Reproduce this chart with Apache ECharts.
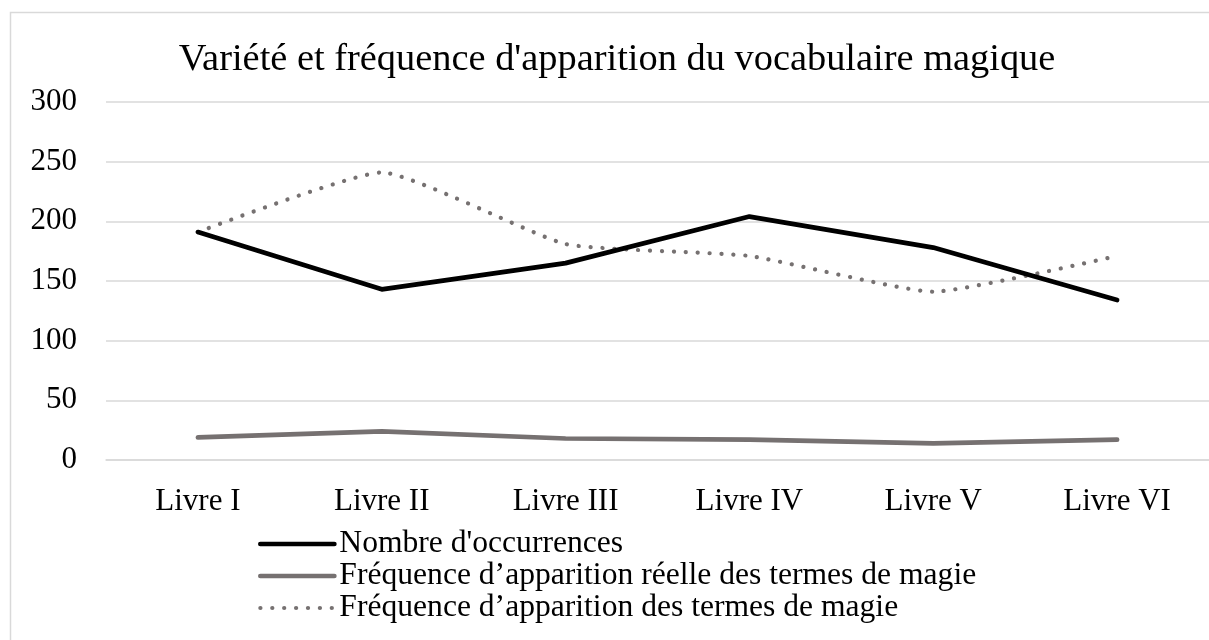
<!DOCTYPE html>
<html>
<head>
<meta charset="utf-8">
<script src="https://cdn.jsdelivr.net/npm/echarts@6/dist/echarts.min.js"></script>
<style>
html,body{margin:0;padding:0;background:#fff;}
#c{width:1209px;height:640px;}
</style>
</head>
<body>
<div id="c"></div>
<script>
const titleText = "Variété et fréquence d'apparition du vocabulaire magique";
const categories = ["Livre I", "Livre II", "Livre III", "Livre IV", "Livre V", "Livre VI"];
const seriesNames = ["Nombre d'occurrences", "Fréquence d’apparition réelle des termes de magie", "Fréquence d’apparition des termes de magie"];
const occurrences = [191, 143, 165, 204, 178, 134];
const frequenceReelle = [19, 24, 18, 17, 14, 17];
const frequence = [191, 241, 181, 171, 141, 171];
const yMin = 0, yMax = 300, yInterval = 50;

const FONT = "'Liberation Serif', 'Times New Roman', serif";
const chart = echarts.init(document.getElementById('c'), null, {renderer: 'canvas'});
chart.setOption({
  backgroundColor: '#ffffff',
  animation: false,
  textStyle: {fontFamily: FONT},
  graphic: [{
    type: 'rect', silent: true, z: -10,
    shape: {x: 10.5, y: 12.5, width: 1400, height: 800},
    style: {fill: 'none', stroke: '#d9d9d9', lineWidth: 1.5}
  }],
  title: {
    text: titleText,
    left: 612, top: 36, textAlign: 'center',
    textStyle: {fontFamily: FONT, fontSize: 38.4, fontWeight: 'normal', color: '#000'}
  },
  legend: {
    orient: 'vertical',
    left: 253, top: 523,
    itemWidth: 74, itemHeight: 14, itemGap: 0,
    itemStyle: {opacity: 0},
    lineStyle: {width: 'inherit'},
    textStyle: {fontFamily: FONT, fontSize: 31.6, color: '#000', lineHeight: 32},
    data: seriesNames
  },
  grid: {left: 106, top: 102, width: 1114, height: 358, containLabel: false},
  xAxis: {
    type: 'category',
    data: categories,
    boundaryGap: true,
    axisLine: {show: true, lineStyle: {color: '#d9d9d9', width: 1.5}},
    axisTick: {show: false},
    axisLabel: {fontFamily: FONT, fontSize: 31, color: '#000', margin: 26}
  },
  yAxis: {
    type: 'value',
    min: yMin, max: yMax, interval: yInterval,
    axisLine: {show: false},
    axisTick: {show: false},
    splitLine: {lineStyle: {color: '#d9d9d9', width: 1.5}},
    axisLabel: {fontFamily: FONT, fontSize: 31, color: '#000', margin: 29}
  },
  series: [
    {
      name: seriesNames[0], type: 'line', data: occurrences,
      symbol: 'none', showSymbol: false,
      lineStyle: {color: '#000000', width: 4.7, cap: 'round', join: 'round'},
      itemStyle: {color: '#000000'}, z: 3
    },
    {
      name: seriesNames[1], type: 'line', data: frequenceReelle,
      symbol: 'none', showSymbol: false,
      lineStyle: {color: '#767171', width: 4.7, cap: 'round', join: 'round'},
      itemStyle: {color: '#767171'}, z: 2
    },
    {
      name: seriesNames[2], type: 'line', data: frequence,
      symbol: 'none', showSymbol: false, smooth: 0.15,
      lineStyle: {color: '#767171', width: 4.2, type: [0.1, 11.8], cap: 'round', join: 'round'},
      itemStyle: {color: '#767171'}, z: 2
    }
  ]
});
</script>
</body>
</html>
